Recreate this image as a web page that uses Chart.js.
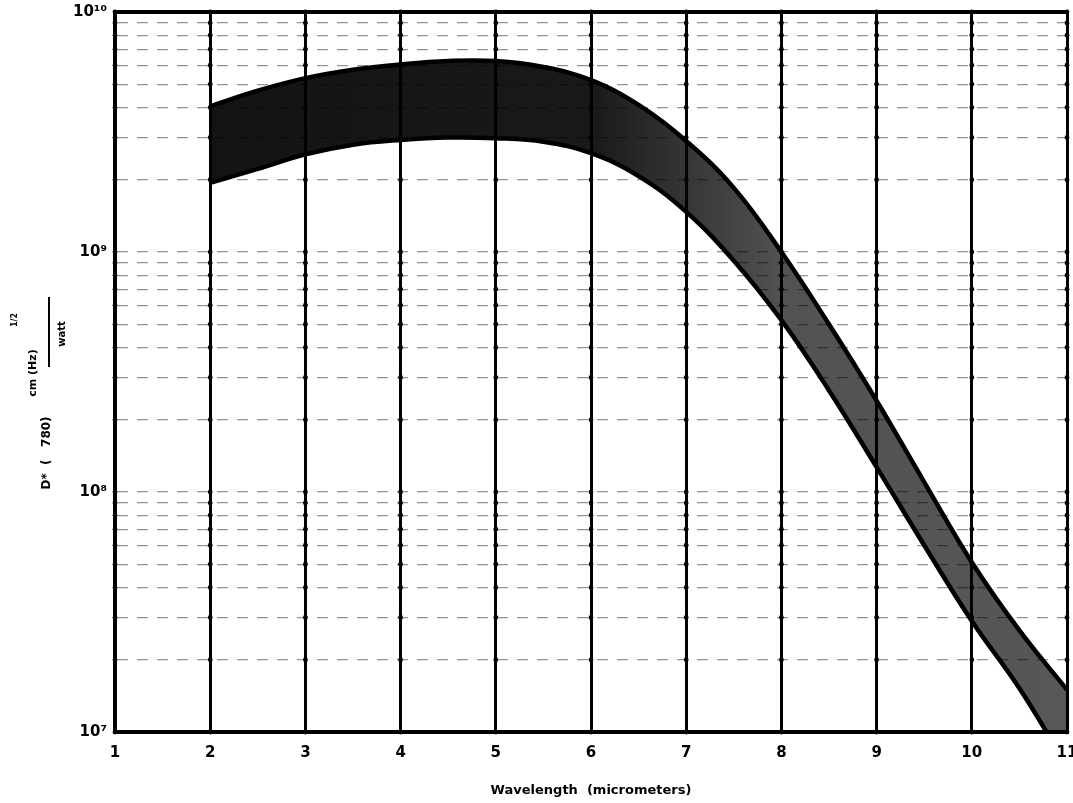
<!DOCTYPE html>
<html>
<head>
<meta charset="utf-8">
<script src="https://cdn.jsdelivr.net/npm/chart.js@4.4.1/dist/chart.umd.min.js"></script>
<style>
  html, body { margin: 0; padding: 0; background: #fff; }
</style>
</head>
<body>
<canvas id="myChart" width="1073" height="803"></canvas>
<script>
// upper edge of the band
const upperWavelengths = [2, 2.5, 3, 3.5, 4, 4.5, 5, 5.5, 6, 6.5, 7, 7.5, 8, 8.5, 9, 9.5, 10, 10.5, 11];
const upperDetectivity = [4.05e9, 4.7e9, 5.3e9, 5.75e9, 6.05e9, 6.25e9, 6.25e9, 5.9e9, 5.2e9, 4.1e9, 2.9e9, 1.85e9, 1.0e9, 5.0e8, 2.4e8, 1.1e8, 5.1e7, 2.65e7, 1.5e7];

// lower edge of the band (leaves through the bottom axis near 10.8)
const lowerWavelengths = [2, 2.5, 3, 3.5, 4, 4.5, 5, 5.5, 6, 6.5, 7, 7.5, 8, 8.5, 9, 9.5, 10, 10.5, 11];
const lowerDetectivity = [1.94e9, 2.22e9, 2.55e9, 2.8e9, 2.93e9, 3.0e9, 2.98e9, 2.88e9, 2.58e9, 2.07e9, 1.47e9, 9.2e8, 5.2e8, 2.65e8, 1.27e8, 6.0e7, 2.9e7, 1.52e7, 7.2e6];

// axis ticks
const xTicks = [1, 2, 3, 4, 5, 6, 7, 8, 9, 10, 11];
const yTicks = [
    1e7, 2e7, 3e7, 4e7, 5e7, 6e7, 7e7, 8e7, 9e7,
    1e8, 2e8, 3e8, 4e8, 5e8, 6e8, 7e8, 8e8, 9e8,
    1e9, 2e9, 3e9, 4e9, 5e9, 6e9, 7e9, 8e9, 9e9,
    1e10
];
const yDecades = [1e7, 1e8, 1e9, 1e10];
const yDecadeLabels = ['10⁷', '10⁸', '10⁹', '10¹⁰'];

const labelFont = '"DejaVu Sans", "Liberation Sans", sans-serif';

function toPoints(xs, ys) {
    return xs.map((x, i) => ({ x: x, y: ys[i] }));
}

// dots on the vertical rules where the horizontal rules cross
const gridDots = {
    id: 'gridDots',
    beforeDatasetsDraw(chart) {
        const ctx = chart.ctx;
        const xs = chart.scales.x;
        const ys = chart.scales.y;
        ctx.save();
        ctx.fillStyle = '#000';
        xTicks.forEach(xv => {
            yTicks.forEach(yv => {
                ctx.beginPath();
                ctx.arc(xs.getPixelForValue(xv), ys.getPixelForValue(yv), 2.4, 0, Math.PI * 2);
                ctx.fill();
            });
        });
        ctx.restore();
    }
};

// y axis title: D* ( 780)  cm (Hz)^1/2 / watt
const yTitle = {
    id: 'yTitle',
    afterDraw(chart) {
        const ctx = chart.ctx;
        function vtext(text, x, y, size) {
            ctx.save();
            ctx.translate(x, y);
            ctx.rotate(-Math.PI / 2);
            ctx.font = 'bold ' + size + 'px ' + labelFont;
            ctx.textAlign = 'center';
            ctx.textBaseline = 'middle';
            ctx.fillText(text, 0, 0);
            ctx.restore();
        }
        ctx.save();
        ctx.fillStyle = '#000';
        vtext('D*  (   780)', 47, 453, 12);
        vtext('cm (Hz)', 33, 373, 11);
        vtext('1/2', 15, 320, 8);
        vtext('watt', 62, 334, 10);
        ctx.strokeStyle = '#000';
        ctx.lineWidth = 2;
        ctx.beginPath();
        ctx.moveTo(49, 367);
        ctx.lineTo(49, 297);
        ctx.stroke();
        ctx.restore();
    }
};

const ctx = document.getElementById('myChart').getContext('2d');

window.myChart = new Chart(ctx, {
    type: 'line',
    data: {
        datasets: [{
            label: 'upper',
            data: toPoints(upperWavelengths, upperDetectivity),
            borderColor: '#000',
            borderWidth: 4.5,
            pointRadius: 0,
            tension: 0.4,
            fill: '+1',
            backgroundColor: function (context) {
                const chart = context.chart;
                const area = chart.chartArea;
                if (!area) return 'rgba(0,0,0,0.85)';
                const g = chart.ctx.createLinearGradient(area.left, 0, area.right, 0);
                g.addColorStop(0, 'rgba(0,0,0,0.93)');
                g.addColorStop(0.5, 'rgba(0,0,0,0.9)');
                g.addColorStop(0.7, 'rgba(0,0,0,0.68)');
                g.addColorStop(1, 'rgba(0,0,0,0.66)');
                return g;
            }
        }, {
            label: 'lower',
            data: toPoints(lowerWavelengths, lowerDetectivity),
            borderColor: '#000',
            borderWidth: 4.5,
            pointRadius: 0,
            tension: 0.4,
            fill: false
        }]
    },
    options: {
        responsive: false,
        animation: false,
        layout: {
            padding: { left: 0, top: 12, right: 6, bottom: 0 }
        },
        plugins: {
            legend: { display: false },
            tooltip: { enabled: false }
        },
        scales: {
            x: {
                type: 'linear',
                min: 1,
                max: 11,
                afterBuildTicks: scale => {
                    scale.ticks = xTicks.map(v => ({ value: v }));
                },
                afterFit: scale => {
                    scale.height = 71;
                    scale.paddingLeft = 0;
                    scale.paddingRight = 0;
                },
                grid: {
                    color: '#000',
                    lineWidth: 3,
                    drawTicks: false
                },
                border: { display: true, color: '#000', width: 4 },
                ticks: {
                    color: '#000',
                    padding: 12,
                    maxRotation: 0,
                    autoSkip: false,
                    font: { family: labelFont, size: 15, weight: 'bold' },
                    callback: v => String(v)
                },
                title: {
                    display: true,
                    text: 'Wavelength  (micrometers)',
                    color: '#000',
                    font: { family: labelFont, size: 13, weight: 'bold' },
                    padding: { top: 0, bottom: 5 }
                }
            },
            y: {
                type: 'logarithmic',
                min: 1e7,
                max: 1e10,
                afterBuildTicks: scale => {
                    scale.ticks = yTicks.map(v => ({ value: v }));
                },
                afterFit: scale => {
                    scale.width = 115;
                    scale.paddingTop = 0;
                    scale.paddingBottom = 0;
                },
                grid: {
                    color: c => (c.tick && c.tick.value >= 1e10) ? '#000' : 'rgba(0,0,0,0.42)',
                    lineWidth: c => (c.tick && c.tick.value >= 1e10) ? 4 : 1.2,
                    drawTicks: false
                },
                border: {
                    display: true,
                    color: '#000',
                    width: 4,
                    dash: c => (c.tick && c.tick.value >= 1e10) ? [] : [11, 9]
                },
                ticks: {
                    color: '#000',
                    padding: 8,
                    autoSkip: false,
                    font: { family: labelFont, size: 15, weight: 'bold' },
                    callback: function (v) {
                        const i = yDecades.indexOf(v);
                        return i >= 0 ? yDecadeLabels[i] : '';
                    }
                }
            }
        }
    },
    plugins: [gridDots, yTitle]
});
</script>
</body>
</html>
